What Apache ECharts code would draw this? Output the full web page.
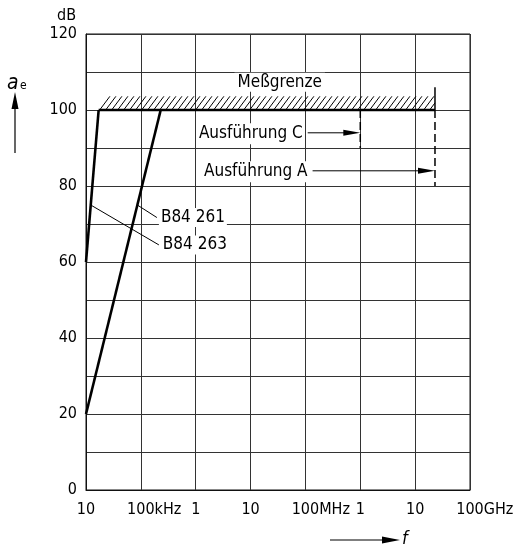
<!DOCTYPE html>
<html>
<head>
<meta charset="utf-8">
<script src="https://cdn.jsdelivr.net/npm/echarts@6/dist/echarts.min.js"></script>
<style>
  html, body { margin: 0; padding: 0; background: #fff; }
  #chart { width: 520px; height: 550px; }
</style>
</head>
<body>
<div id="chart"></div>
<script>
// Shielding attenuation a_e of feed-through filters versus frequency

const FONT = "'DejaVu Sans Condensed', 'DejaVu Sans', sans-serif";

// x axis: one tick per decade, number part and unit part
const xTickNumbers = ['10', '100', '1', '10', '100', '1', '10', '100'];
const xTickUnits   = ['',   'kHz', '',  '',   'MHz', '',  '',   'GHz'];
const freqMin = 1e4;
const freqMax = 1e11;

// y axis (dB)
const dbMin = 0;
const dbMax = 120;
const dbLabelStep = 20;

// attenuation curves: [frequency in Hz, attenuation in dB]
const curveB84263 = [[1e4, 60], [1.7e4, 100]];
const curveB84261 = [[1e4, 20], [2.3e5, 100]];

// measurement limit (Meßgrenze)
const limitLevel = 100;
const limitStart = 1.7e4;
const limitEnd = 2.3e10;
const limitHatchTop = 103.6;
const limitTickTop = 106;
const limitLabelAt = [3.4e7, 107.3];

// frequency ranges of the versions
const versionNames       = ['Ausführung C', 'Ausführung A'];
const versionEnds        = [1e9, 2.3e10];
const versionArrowStarts = [1.1e8, 1.35e8];
const versionArrowLevels = [94, 84];
const versionDashBottoms = [90, 80];

// leader lines: level where they leave the curve, and where the label sits
const leaderNames   = ['B84 261', 'B84 263'];
const leaderLevels  = [75, 75];
const leaderLabelAt = [[1.96e5, 71.7], [2.13e5, 64.5]];

// frequency on a curve (straight on the log axis) at a given level
function freqOnCurve(curve, level) {
  const [f0, d0] = curve[0];
  const [f1, d1] = curve[1];
  const t = (level - d0) / (d1 - d0);
  return Math.pow(10, Math.log10(f0) + t * (Math.log10(f1) - Math.log10(f0)));
}
const leaderCurves = [curveB84261, curveB84263];

const chart = echarts.init(document.getElementById('chart'));

const thick = { color: '#000', width: 2.6 };
const textFont = '17px ' + FONT;

const leaderSeries = leaderNames.map((name, i) => ({
  type: 'line',
  name: name,
  data: [
    [freqOnCurve(leaderCurves[i], leaderLevels[i]), leaderLevels[i]],
    leaderLabelAt[i]
  ],
  symbol: 'none',
  lineStyle: { color: '#000', width: 1 },
  endLabel: {
    show: true,
    formatter: name,
    distance: 2,
    color: '#000',
    fontFamily: FONT,
    fontSize: 17,
    backgroundColor: '#fff',
    padding: [1, 2]
  },
  silent: true,
  z: 4
}));

chart.setOption({
  animation: false,
  backgroundColor: '#fff',
  grid: {
    left: 86, right: 50, top: 34, bottom: 60,
    show: true, borderColor: '#111', borderWidth: 1
  },
  xAxis: {
    type: 'log',
    logBase: 10,
    min: freqMin,
    max: freqMax,
    splitNumber: 7,
    axisLine: { show: true, lineStyle: { color: '#111', width: 1 } },
    axisTick: { show: false },
    splitLine: { show: true, lineStyle: { color: '#333', width: 1 } },
    axisLabel: {
      margin: 12,
      color: '#000',
      fontFamily: FONT,
      fontSize: 16,
      formatter: function (v) {
        const i = Math.round(Math.log10(v)) - 4;
        const num = xTickNumbers[i];
        const unit = xTickUnits[i];
        if (!unit) return num;
        return '{pad|' + unit + '}' + num + '{unit|' + unit + '}';
      },
      rich: {
        pad: { color: 'rgba(0,0,0,0)', fontFamily: FONT, fontSize: 16 },
        unit: { color: '#000', fontFamily: FONT, fontSize: 16 }
      }
    }
  },
  yAxis: {
    type: 'value',
    min: dbMin,
    max: dbMax,
    interval: 10,
    name: 'dB',
    nameLocation: 'end',
    nameGap: 10,
    nameTextStyle: {
      color: '#000', fontFamily: FONT, fontSize: 16,
      align: 'right', padding: [0, 10, 0, 0]
    },
    axisLine: { show: true, lineStyle: { color: '#111', width: 1 } },
    axisTick: { show: false },
    splitLine: { show: true, lineStyle: { color: '#333', width: 1 } },
    axisLabel: {
      margin: 9,
      color: '#000',
      fontFamily: FONT,
      fontSize: 16,
      formatter: v => (v % dbLabelStep === 0 ? String(v) : '')
    }
  },
  graphic: [
    // quantity symbol a_e with upward arrow
    { type: 'text', left: 7, top: 73, style: { text: 'a', font: 'italic 21px ' + FONT, fill: '#000' } },
    { type: 'text', left: 20, top: 80, style: { text: 'e', font: '12px ' + FONT, fill: '#000' } },
    { type: 'line', shape: { x1: 15, y1: 153, x2: 15, y2: 104 }, style: { stroke: '#000', lineWidth: 1.2 } },
    { type: 'polygon', shape: { points: [[15, 92], [11.5, 109], [18.5, 109]] }, style: { fill: '#000' } },
    // quantity symbol f with rightward arrow
    { type: 'line', shape: { x1: 330, y1: 540, x2: 386, y2: 540 }, style: { stroke: '#000', lineWidth: 1.2 } },
    { type: 'polygon', shape: { points: [[400, 540], [382, 536.5], [382, 543.5]] }, style: { fill: '#000' } },
    { type: 'text', left: 402, top: 530, style: { text: 'f', font: 'italic 18px ' + FONT, fill: '#000' } }
  ],
  series: [
    { type: 'line', name: 'B84 263 Kurve', data: curveB84263, symbol: 'none', lineStyle: thick, z: 5 },
    { type: 'line', name: 'B84 261 Kurve', data: curveB84261, symbol: 'none', lineStyle: thick, z: 5 },
    {
      type: 'line', name: 'Meßgrenze',
      data: [[limitStart, limitLevel], [limitEnd, limitLevel]],
      symbol: 'none', lineStyle: thick, z: 5
    },
    // hatched band above the measurement limit
    {
      type: 'custom',
      name: 'Meßgrenze Schraffur',
      data: [[limitStart, limitEnd, limitLevel, limitHatchTop, limitTickTop]],
      encode: { x: [0, 1], y: [2, 3, 4] },
      silent: true,
      z: 4,
      renderItem: function (params, api) {
        const pTL = api.coord([api.value(0), api.value(3)]);
        const pBR = api.coord([api.value(1), api.value(2)]);
        const pTick = api.coord([api.value(1), api.value(4)]);
        const left = pTL[0], right = pBR[0], top = pTL[1], bottom = pBR[1];
        const h = bottom - top;
        const dx = h * 0.75;
        const step = 6;
        const children = [];
        for (let x = left + 1; x < right; x += step) {
          let x2 = x + dx, y2 = top;
          if (x2 > right) {
            y2 = bottom - h * (right - x) / dx;
            x2 = right;
          }
          children.push({
            type: 'line',
            shape: { x1: x, y1: bottom, x2: x2, y2: y2 },
            style: { stroke: '#000', lineWidth: 1 }
          });
        }
        children.push({
          type: 'line',
          shape: { x1: right, y1: bottom, x2: right, y2: pTick[1] },
          style: { stroke: '#000', lineWidth: 1.5 }
        });
        const lab = api.coord(limitLabelAt);
        children.push({
          type: 'text',
          style: {
            text: 'Meßgrenze', x: lab[0], y: lab[1],
            align: 'center', verticalAlign: 'middle',
            textAlign: 'center', textVerticalAlign: 'middle',
            font: textFont, fill: '#000',
            backgroundColor: '#fff', padding: [1, 3]
          }
        });
        return { type: 'group', children: children };
      }
    },
    // version ranges: label, arrow and dashed end marker
    {
      type: 'custom',
      name: 'Ausführungen',
      data: versionNames.map((n, i) => [versionArrowStarts[i], versionEnds[i], versionArrowLevels[i], versionDashBottoms[i]]),
      encode: { x: [0, 1], y: [2, 3] },
      silent: true,
      z: 4,
      renderItem: function (params, api) {
        const i = params.dataIndex;
        const tail = api.coord([api.value(0), api.value(2)]);
        const head = api.coord([api.value(1), api.value(2)]);
        const top = api.coord([api.value(1), limitLevel]);
        const bot = api.coord([api.value(1), api.value(3)]);
        return {
          type: 'group',
          children: [
            {
              type: 'text',
              style: {
                text: versionNames[i], x: tail[0] - 3, y: tail[1] + 1,
                align: 'right', verticalAlign: 'middle',
                textAlign: 'right', textVerticalAlign: 'middle',
                font: textFont, fill: '#000',
                backgroundColor: '#fff', padding: [2, 2]
              }
            },
            {
              type: 'line',
              shape: { x1: tail[0], y1: tail[1], x2: head[0] - 12, y2: head[1] },
              style: { stroke: '#000', lineWidth: 1 }
            },
            {
              type: 'polygon',
              shape: { points: [[head[0], head[1]], [head[0] - 17, head[1] - 3], [head[0] - 17, head[1] + 3]] },
              style: { fill: '#000' }
            },
            {
              type: 'line',
              shape: { x1: top[0], y1: top[1], x2: bot[0], y2: bot[1] },
              style: { stroke: '#000', lineWidth: 1.5, lineDash: [8, 4] }
            }
          ]
        };
      }
    }
  ].concat(leaderSeries)
});
</script>
</body>
</html>
